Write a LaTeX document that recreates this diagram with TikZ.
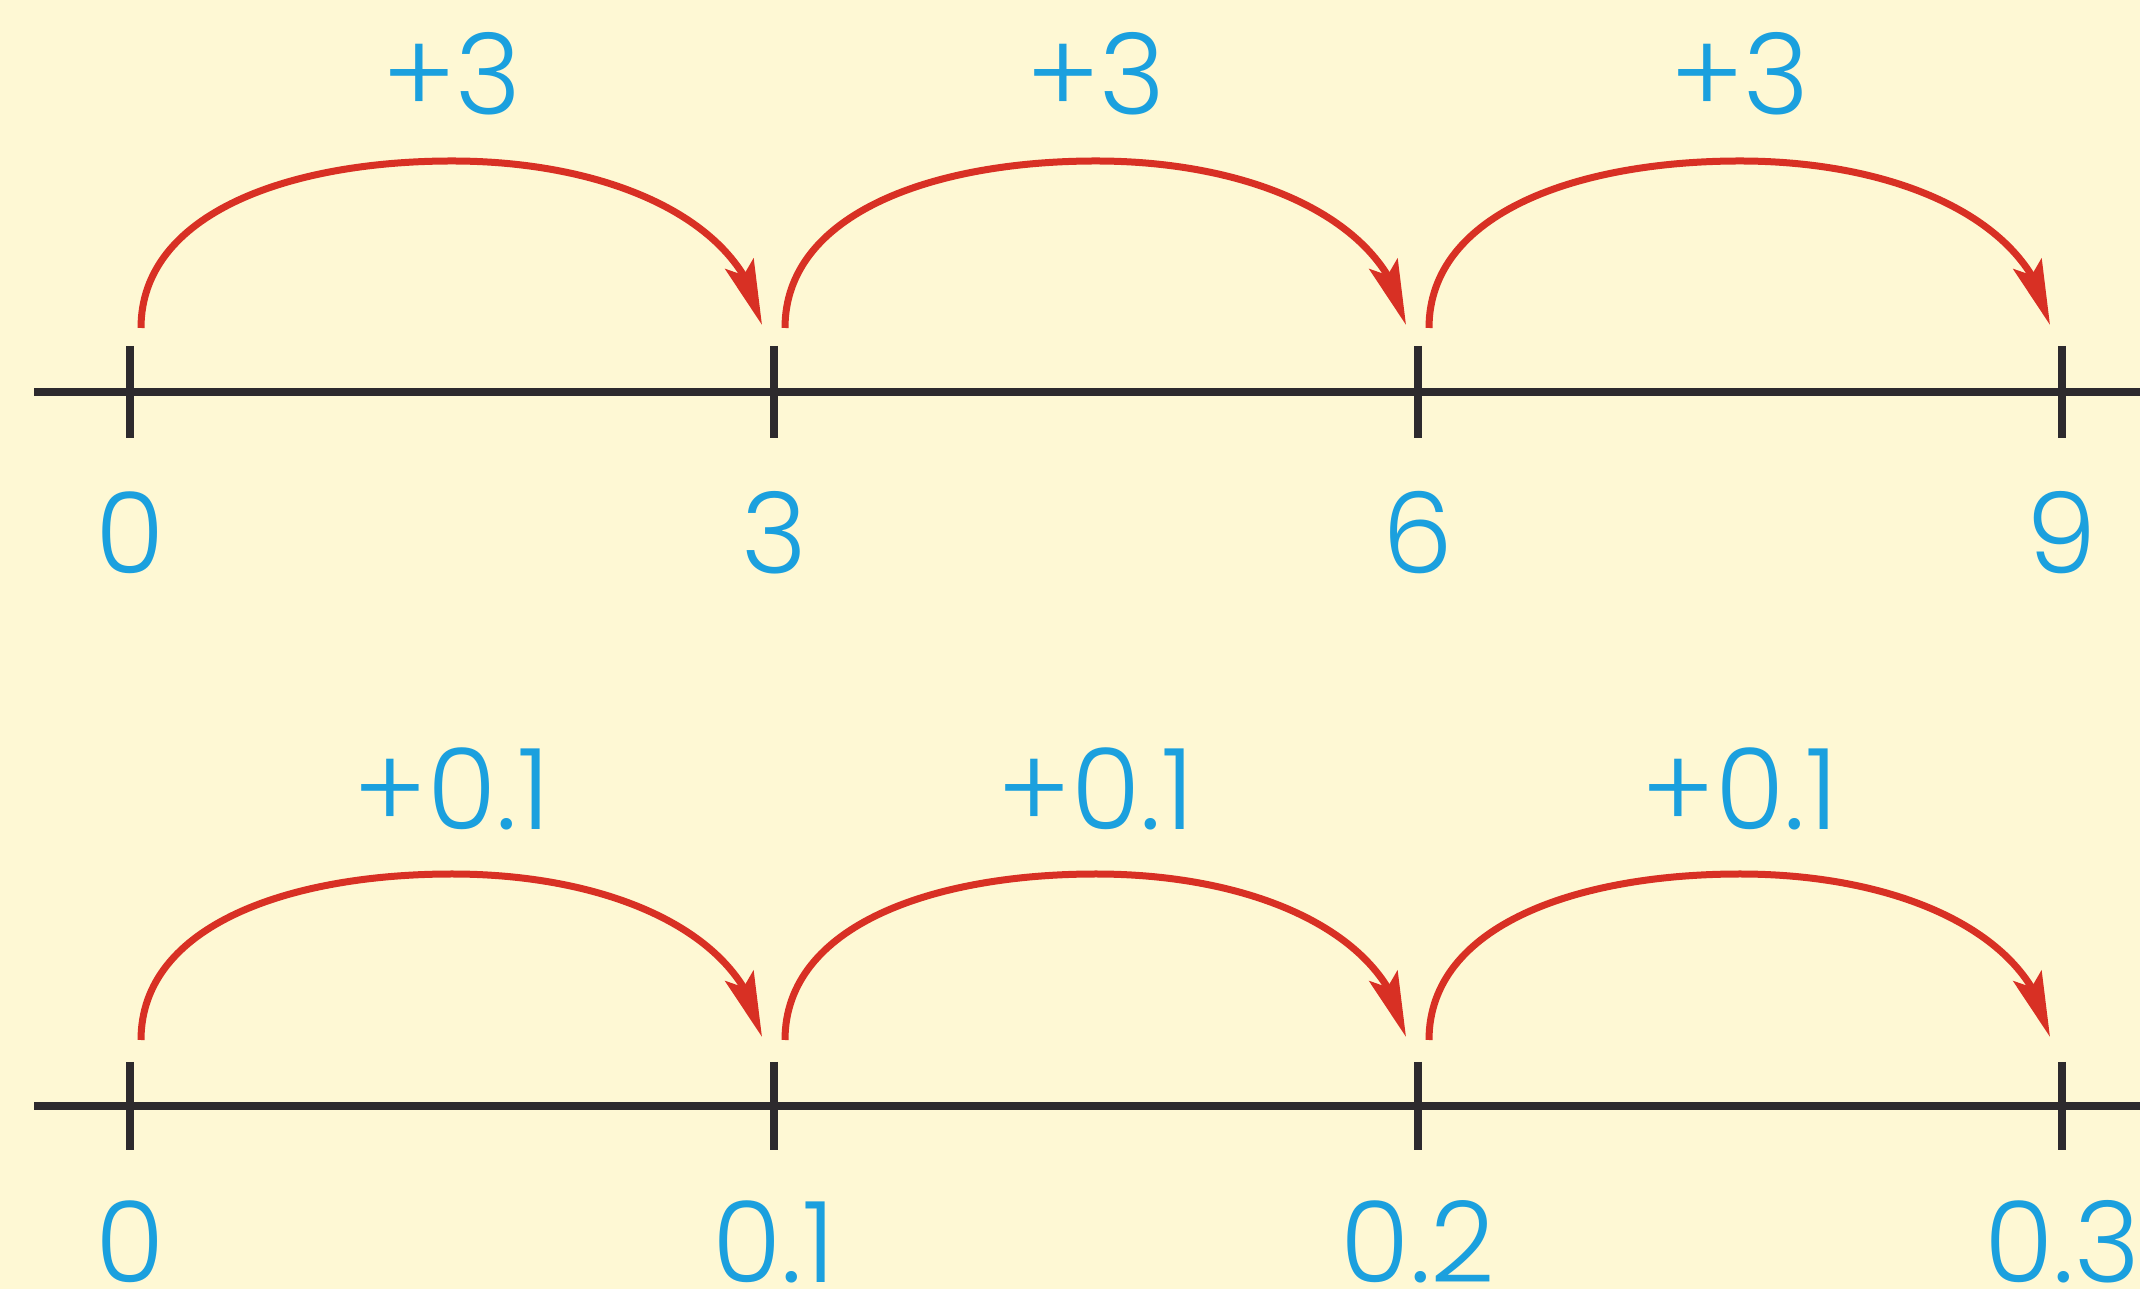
\documentclass[tikz,border=0pt]{standalone}
\usepackage{fontspec}
\setmainfont{Poppins}[UprightFont = * Light]
\usetikzlibrary{arrows.meta,bending,calc}
\definecolor{paper}{RGB}{254,248,212}
\definecolor{numblue}{RGB}{27,160,222}
\definecolor{jumpred}{RGB}{216,48,36}
\definecolor{axisgray}{RGB}{45,42,45}

\begin{document}
\begin{tikzpicture}[
  >={Stealth[length=6.5mm,width=3mm,inset=1.2mm]},
  x=0.1mm, y=0.1mm,
  numline/.style={draw=axisgray, line width=0.85mm},
  tickmark/.style={draw=axisgray, line width=0.85mm},
  jump/.style={->, draw=jumpred, line width=0.7mm},          % red hop between ticks
  numlbl/.style={text=numblue, font=\fontsize{32}{38}\selectfont, anchor=base, inner sep=0pt, text depth=0pt},
]
\def\W{644}   % tick spacing
\def\Xo{130}  % first tick

\fill[paper] (0,0) rectangle (2140,1289);
\useasboundingbox (0,0) rectangle (2140,1289);

% ============================== upper line: steps of 3 ==============================
\coordinate (ua) at (34,897);
\coordinate (ub) at (2140,897);
\draw[numline] (ua) -- (ub);
\foreach \i/\lab in {0/0,1/3,2/6,3/9}{
  \coordinate (u\i) at (\Xo+\i*\W,897);
  \draw[tickmark] ($(u\i)+(0,46)$) -- ($(u\i)+(0,-46)$);
  \node[numlbl] (ul\i) at ($(u\i)+(0,-182)$) {\lab};
}
\foreach \i in {0,1,2}{ \pgfmathtruncatemacro{\j}{\i+1}
  \coordinate (ut\i) at ($(u\i)!0.5!(u\j)+(0,231)$);   % top of the hop
  \draw[jump] ($(u\i)+(11,64)$) .. controls ($(u\i)+(11,180)$) and ($(ut\i)+(-160,0)$) .. (ut\i)
              .. controls ($(ut\i)+(160,0)$) and ($(u\j)+(-28,170)$) .. ($(u\j)+(-12,67)$);
  \node[numlbl] (uj\i) at ($(u\i)!0.5!(u\j)+(0,277)$) {+3};
}

% ============================== lower line: steps of 0.1 ==============================
\coordinate (la) at (34,183);
\coordinate (lb) at (2140,183);
\draw[numline] (la) -- (lb);
\foreach \i/\lab in {0/0,1/0.1,2/0.2,3/0.3}{
  \coordinate (l\i) at (\Xo+\i*\W,183);
  \draw[tickmark] ($(l\i)+(0,44)$) -- ($(l\i)+(0,-44)$);
  \node[numlbl] (ll\i) at ($(l\i)+(0,-176)$) {\lab};
}
\foreach \i in {0,1,2}{ \pgfmathtruncatemacro{\j}{\i+1}
  \coordinate (lt\i) at ($(l\i)!0.5!(l\j)+(0,232)$);   % top of the hop
  \draw[jump] ($(l\i)+(11,66)$) .. controls ($(l\i)+(11,182)$) and ($(lt\i)+(-160,0)$) .. (lt\i)
              .. controls ($(lt\i)+(160,0)$) and ($(l\j)+(-28,172)$) .. ($(l\j)+(-12,69)$);
  \node[numlbl] (lj\i) at ($(l\i)!0.5!(l\j)+(0,276)$) {+0.1};
}
\end{tikzpicture}
\end{document}
